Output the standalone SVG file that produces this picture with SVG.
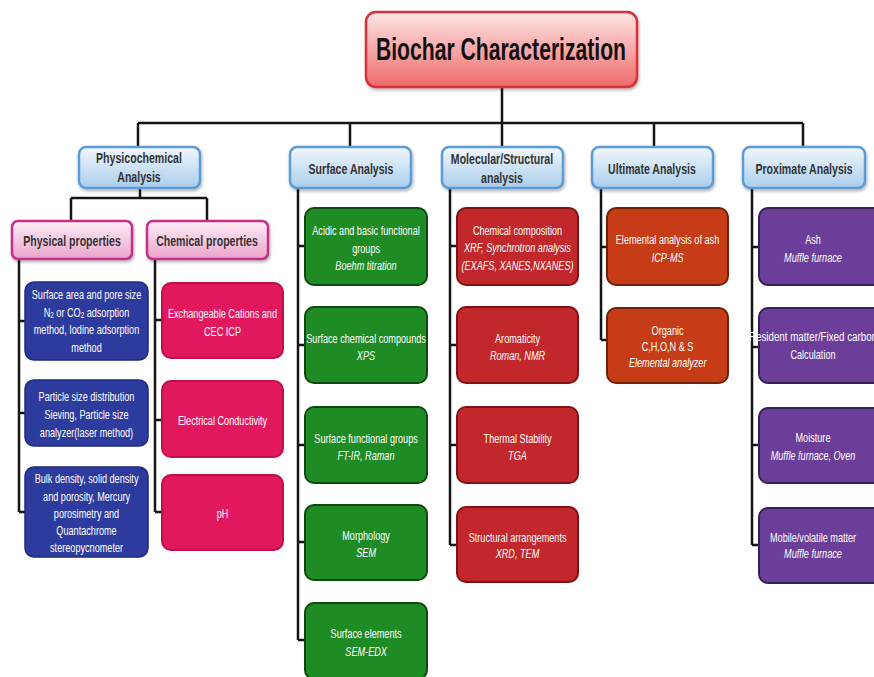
<svg xmlns="http://www.w3.org/2000/svg" width="874" height="677" viewBox="0 0 874 677">
<defs>
<linearGradient id="gTitle" x1="0" y1="0" x2="0" y2="1"><stop offset="0" stop-color="#fde6e6"/><stop offset="0.5" stop-color="#f8a8a8"/><stop offset="1" stop-color="#ef6a6a"/></linearGradient>
<linearGradient id="gBlue" x1="0" y1="0" x2="0" y2="1"><stop offset="0" stop-color="#f2f8fd"/><stop offset="1" stop-color="#a9cdec"/></linearGradient>
<linearGradient id="gPink" x1="0" y1="0" x2="0" y2="1"><stop offset="0" stop-color="#fdeef6"/><stop offset="1" stop-color="#eba4cb"/></linearGradient>
<filter id="sh" x="-10%" y="-10%" width="130%" height="140%"><feDropShadow dx="1" dy="2" stdDeviation="1.5" flood-color="#000" flood-opacity="0.3"/></filter>
</defs>
<style>
text{font-family:"Liberation Sans",Arial,sans-serif;text-anchor:middle;dominant-baseline:central;transform-box:fill-box;transform-origin:center;transform:scaleX(0.73)}
.t{font-size:31px;font-weight:bold;fill:#111;transform:none}
.h{font-size:14.5px;font-weight:bold;fill:#333}
.w{font-size:12.5px;fill:#fff}
.i{font-style:italic}
.n{transform:none}
.c{fill:none;stroke:#151515;stroke-width:2.5}
.title{fill:url(#gTitle);stroke:#d8333a;stroke-width:2.5}
.l2{fill:url(#gBlue);stroke:#5b9bd5;stroke-width:2.5}
.l3{fill:url(#gPink);stroke:#c2338a;stroke-width:2.5}
.bl{fill:#2e3b9e;stroke:#1f2a80;stroke-width:1.5}
.pk{fill:#e2185f;stroke:#c0104a;stroke-width:2}
.gr{fill:#1f8b24;stroke:#0d4a10;stroke-width:2}
.rd{fill:#c1272b;stroke:#7e1214;stroke-width:2}
.or{fill:#c53c16;stroke:#6e2008;stroke-width:2}
.pu{fill:#6b3e99;stroke:#35205a;stroke-width:2}
</style>
<rect width="874" height="677" fill="#fff"/>
<g id="connectors">
<path class="c" d="M502 87V123M138 123H803M138 123V147M350 123V147M502 123V147M654 123V147M803 123V147"/>
<path class="c" d="M140 188V198M71 198H207M71 198V221M207 198V221"/>
<path class="c" d="M19 259V512M19 321H25M19 413H25M19 512H25"/>
<path class="c" d="M155 259V512M155 320H162M155 420H162M155 512H162"/>
<path class="c" d="M298 188V640M298 246H305M298 345H305M298 445H305M298 542H305M298 640H305"/>
<path class="c" d="M450 188V545M450 246H457M450 345H457M450 445H457M450 545H457"/>
<path class="c" d="M601 188V340M601 247H607M601 340H607"/>
<path class="c" d="M752 188V545M752 247H759M752 347H759M752 445H759M752 545H759"/>
</g>
<g id="title"><rect class="title" x="366" y="12" width="271" height="75" rx="10" filter="url(#sh)"/><text class="t" x="501" y="49" textLength="250" lengthAdjust="spacingAndGlyphs">Biochar Characterization</text></g>
<g id="physicochemical"><rect class="l2" x="79" y="147" width="121" height="41" rx="7" filter="url(#sh)"/><text class="h" x="139" y="158">Physicochemical</text><text class="h" x="139" y="177">Analysis</text></g>
<g id="surface"><rect class="l2" x="290" y="147" width="121" height="41" rx="7" filter="url(#sh)"/><text class="h" x="351" y="169">Surface Analysis</text></g>
<g id="molecular"><rect class="l2" x="442" y="147" width="121" height="41" rx="7" filter="url(#sh)"/><text class="h" x="502" y="159">Molecular/Structural</text><text class="h" x="502" y="178">analysis</text></g>
<g id="ultimate"><rect class="l2" x="592" y="147" width="121" height="41" rx="7" filter="url(#sh)"/><text class="h" x="652" y="169">Ultimate Analysis</text></g>
<g id="proximate"><rect class="l2" x="743" y="147" width="122" height="41" rx="7" filter="url(#sh)"/><text class="h" x="804" y="169">Proximate Analysis</text></g>
<g id="physical"><rect class="l3" x="12" y="221" width="120" height="38" rx="6" filter="url(#sh)"/><text class="h" x="72" y="241">Physical properties</text></g>
<g id="chemical"><rect class="l3" x="147" y="221" width="121" height="38" rx="6" filter="url(#sh)"/><text class="h" x="207" y="241">Chemical properties</text></g>
<g id="phys1"><rect class="bl" x="25" y="282" width="123" height="78" rx="9"/><text class="w" x="86.5" y="294">Surface area and pore size</text><text class="w" x="86.5" y="312">N<tspan font-size="8.5" dy="3">2</tspan><tspan dy="-3"> or CO</tspan><tspan font-size="8.5" dy="3">2</tspan><tspan dy="-3"> adsorption</tspan></text><text class="w" x="86.5" y="329">method, Iodine adsorption</text><text class="w" x="86.5" y="347">method</text></g>
<g id="phys2"><rect class="bl" x="25" y="380" width="123" height="66" rx="9"/><text class="w" x="86.5" y="396">Particle size distribution</text><text class="w" x="86.5" y="414">Sieving, Particle size</text><text class="w" x="86.5" y="432">analyzer(laser method)</text></g>
<g id="phys3"><rect class="bl" x="25" y="467" width="123" height="90" rx="9"/><text class="w" x="86.5" y="478">Bulk density, solid density</text><text class="w" x="86.5" y="496">and porosity, Mercury</text><text class="w" x="86.5" y="513">porosimetry  and</text><text class="w" x="86.5" y="530">Quantachrome</text><text class="w" x="86.5" y="547">stereopycnometer</text></g>
<g id="chem1"><rect class="pk" x="162" y="283" width="121" height="75" rx="9"/><text class="w" x="222.5" y="313">Exchangeable Cations and</text><text class="w" x="222.5" y="331">CEC ICP</text></g>
<g id="chem2"><rect class="pk" x="162" y="381" width="121" height="76" rx="9"/><text class="w" x="222.5" y="420">Electrical Conductivity</text></g>
<g id="chem3"><rect class="pk" x="162" y="475" width="121" height="75" rx="9"/><text class="w" x="222.5" y="513">pH</text></g>
<g id="surf1"><rect class="gr" x="305" y="208" width="122" height="77" rx="9"/><text class="w" x="366" y="230">Acidic and basic functional</text><text class="w" x="366" y="248">groups</text><text class="w i" x="366" y="265">Boehm titration</text></g>
<g id="surf2"><rect class="gr" x="305" y="307" width="122" height="76" rx="9"/><text class="w" x="366" y="338">Surface chemical compounds</text><text class="w i" x="366" y="355">XPS</text></g>
<g id="surf3"><rect class="gr" x="305" y="407" width="122" height="76" rx="9"/><text class="w" x="366" y="438">Surface functional groups</text><text class="w i" x="366" y="455">FT-IR, Raman</text></g>
<g id="surf4"><rect class="gr" x="305" y="505" width="122" height="75" rx="9"/><text class="w" x="366" y="535">Morphology</text><text class="w i" x="366" y="552">SEM</text></g>
<g id="surf5"><rect class="gr" x="305" y="603" width="122" height="76" rx="9"/><text class="w" x="366" y="633">Surface elements</text><text class="w i" x="366" y="651">SEM-EDX</text></g>
<g id="mol1"><rect class="rd" x="457" y="208" width="121" height="77" rx="9"/><text class="w" x="517.5" y="230">Chemical composition</text><text class="w i" x="517.5" y="247">XRF, Synchrotron analysis</text><text class="w i" x="517.5" y="265">(EXAFS, XANES,NXANES)</text></g>
<g id="mol2"><rect class="rd" x="457" y="307" width="121" height="76" rx="9"/><text class="w" x="517.5" y="338">Aromaticity</text><text class="w i" x="517.5" y="355">Roman, NMR</text></g>
<g id="mol3"><rect class="rd" x="457" y="407" width="121" height="76" rx="9"/><text class="w" x="517.5" y="438">Thermal Stability</text><text class="w i" x="517.5" y="455">TGA</text></g>
<g id="mol4"><rect class="rd" x="457" y="507" width="121" height="75" rx="9"/><text class="w" x="517.5" y="537">Structural arrangements</text><text class="w i" x="517.5" y="553">XRD, TEM</text></g>
<g id="ult1"><rect class="or" x="607" y="208" width="121" height="77" rx="9"/><text class="w" x="667.5" y="239">Elemental analysis of ash</text><text class="w i" x="667.5" y="257">ICP-MS</text></g>
<g id="ult2"><rect class="or" x="607" y="308" width="121" height="75" rx="9"/><text class="w" x="667.5" y="330">Organic</text><text class="w" x="667.5" y="346">C,H,O,N &amp; S</text><text class="w i" x="667.5" y="362">Elemental analyzer</text></g>
<g id="prox1"><rect class="pu" x="759" y="208" width="125" height="77" rx="9"/><text class="w" x="813" y="239">Ash</text><text class="w i" x="813" y="257">Muffle furnace</text></g>
<g id="prox2"><rect class="pu" x="759" y="308" width="125" height="75" rx="9"/><text class="w n" x="813" y="337" textLength="128" lengthAdjust="spacingAndGlyphs">Resident matter/Fixed carbon</text><text class="w" x="813" y="354">Calculation</text></g>
<g id="prox3"><rect class="pu" x="759" y="408" width="125" height="75" rx="9"/><text class="w" x="813" y="437">Moisture</text><text class="w i" x="813" y="455">Muffle furnace, Oven</text></g>
<g id="prox4"><rect class="pu" x="759" y="508" width="125" height="75" rx="9"/><text class="w" x="813" y="537">Mobile/volatile matter</text><text class="w i" x="813" y="553">Muffle furnace</text></g>
</svg>
